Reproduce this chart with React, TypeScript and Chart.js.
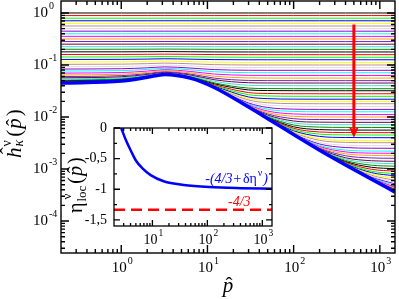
import React, { useEffect, useRef } from "react";
import { Chart, registerables } from "chart.js";

Chart.register(...registerables);

const SERIF = '"Liberation Serif", "Times New Roman", Times, serif';

// ---------- main panel ----------
// momentum grid
const pGrid = [0.2, 1, 2, 3.2, 6.3, 12, 30, 50, 100, 200, 400, 800, 1500];
// limiting curve (thick blue, bottom of the family)
const hLimit = [0.045, 0.049, 0.058, 0.066, 0.056, 0.037, 0.0155, 0.0093, 0.0046, 0.0023, 0.0012, 0.00064, 0.00036];
// plateau level of each thin curve, read at the right edge (top to bottom)
const hPlateaus = [
  1.0, 0.891, 0.794, 0.708, 0.631, 0.562, 0.501, 0.447, 0.398, 0.355, 0.316, 0.282,
  0.251, 0.224, 0.2, 0.178, 0.158, 0.141, 0.126, 0.112, 0.1, 0.089, 0.079, 0.071,
  0.063, 0.056, 0.05, 0.045, 0.04, 0.035, 0.032, 0.028, 0.025, 0.022, 0.02, 0.018,
  0.016, 0.014, 0.0126, 0.0112, 0.01, 0.0089, 0.0079, 0.0071, 0.0063, 0.0056, 0.005,
  0.0045, 0.004, 0.0035, 0.0032, 0.0028, 0.0025, 0.0022, 0.002, 0.0018, 0.0016,
  0.0014, 0.00126, 0.00112, 0.001, 0.00089, 0.00079, 0.00071, 0.00063, 0.00056,
  0.0005, 0.00045, 0.0004, 0.00035, 0.00032, 0.00028, 0.00025,
];
// how sharply a curve leaves the limiting curve for its plateau (read from the bends)
const blendOrder = 3;
const familyColors = [
  "#000000", "#ff0000", "#00ff00", "#0000ff", "#ffff00", "#bc8f8f", "#dcdcdc",
  "#9400d3", "#00ffff", "#ff00ff", "#ffa500", "#7221bc", "#670748", "#40e0d0", "#008b00",
];
const mainXRange = [0.2, 1500];
const mainYRange = [2.43e-5, 1.7];
const mainXDecades = [0, 1, 2, 3];
const mainYDecades = [-4, -3, -2, -1, 0];
const arrowAtP = 500;
const arrowFromH = 0.6;
const arrowToH = 0.004;

// ---------- inset ----------
const etaP = [2.7, 3.3, 4.1, 5, 6.6, 9.3, 16, 37, 110, 400, 1500];
const etaLoc = [0, -0.2, -0.38, -0.53, -0.66, -0.77, -0.87, -0.93, -0.965, -0.982, -0.99];
const etaAsymptote = -4 / 3;
const insetXRange = [2, 1500];
const insetYRange = [-1.6, 0];
const insetXDecades = [1, 2, 3];
const insetYTicks = [0, -0.5, -1, -1.5];
const insetYTickLabels = ["0", "-0,5", "-1", "-1,5"];
const insetYMinor = [-0.25, -0.75, -1.25];

function logMinorValues(min: number, max: number): number[] {
  const out: number[] = [];
  const e0 = Math.floor(Math.log10(min));
  const e1 = Math.ceil(Math.log10(max));
  for (let e = e0; e <= e1; e++) {
    for (let k = 2; k <= 9; k++) {
      const v = k * Math.pow(10, e);
      if (v > min && v < max) out.push(v);
    }
  }
  return out;
}

function drawPower(ctx: CanvasRenderingContext2D, exp: number, x: number, y: number,
  align: string, big: number, small: number) {
  ctx.font = `${big}px ${SERIF}`;
  const wb = ctx.measureText("10").width;
  ctx.font = `${small}px ${SERIF}`;
  const s = String(exp);
  const ws = ctx.measureText(s).width;
  const total = wb + 1 + ws;
  const x0 = align === "left" ? x : align === "center" ? x - total / 2 : x - total;
  ctx.textAlign = "left";
  ctx.textBaseline = "middle";
  ctx.font = `${big}px ${SERIF}`;
  ctx.fillText("10", x0, y);
  ctx.font = `${small}px ${SERIF}`;
  ctx.fillText(s, x0 + wb + 1, y - big * 0.45);
}

function drawFrameAndTicks(ctx: CanvasRenderingContext2D, chart: any,
  xMajor: number[], xMinor: number[], yMajor: number[], yMinor: number[],
  majLen: number, minLen: number, lw: number) {
  const a = chart.chartArea;
  const xs = chart.scales.x;
  const ys = chart.scales.y;
  ctx.save();
  ctx.strokeStyle = "#000";
  ctx.lineWidth = lw;
  ctx.beginPath();
  const tx = (v: number, len: number) => {
    const px = xs.getPixelForValue(v);
    ctx.moveTo(px, a.bottom); ctx.lineTo(px, a.bottom - len);
    ctx.moveTo(px, a.top); ctx.lineTo(px, a.top + len);
  };
  const ty = (v: number, len: number) => {
    const py = ys.getPixelForValue(v);
    ctx.moveTo(a.left, py); ctx.lineTo(a.left + len, py);
    ctx.moveTo(a.right, py); ctx.lineTo(a.right - len, py);
  };
  xMajor.forEach((v) => tx(v, majLen));
  xMinor.forEach((v) => tx(v, minLen));
  yMajor.forEach((v) => ty(v, majLen));
  yMinor.forEach((v) => ty(v, minLen));
  ctx.stroke();
  ctx.strokeRect(a.left, a.top, a.right - a.left, a.bottom - a.top);
  ctx.restore();
}

function drawHat(ctx: CanvasRenderingContext2D, cx: number, baseY: number, size: number) {
  ctx.font = `${size}px ${SERIF}`;
  const w = ctx.measureText("\u02C6").width;
  ctx.fillText("\u02C6", cx - w / 2, baseY);
}

const mainDecor = {
  id: "mainDecor",
  afterDatasetsDraw(chart: any) {
    const ctx: CanvasRenderingContext2D = chart.ctx;
    const xs = chart.scales.x;
    const ys = chart.scales.y;
    const xMajor = mainXDecades.map((e) => Math.pow(10, e));
    const yMajor = mainYDecades.map((e) => Math.pow(10, e));
    drawFrameAndTicks(ctx, chart, xMajor, logMinorValues(mainXRange[0], mainXRange[1]),
      yMajor, logMinorValues(mainYRange[0], mainYRange[1]), 8, 4, 1.4);

    ctx.save();
    ctx.fillStyle = "#000";
    mainYDecades.forEach((e) => drawPower(ctx, e, 33, ys.getPixelForValue(Math.pow(10, e)), "left", 15, 10));
    mainXDecades.forEach((e) => drawPower(ctx, e, xs.getPixelForValue(Math.pow(10, e)) + 1, 268, "center", 15, 10));

    // x title: p-hat
    ctx.textBaseline = "alphabetic";
    ctx.textAlign = "left";
    ctx.font = `italic 21px ${SERIF}`;
    const wp = ctx.measureText("p").width;
    ctx.fillText("p", 228 - wp / 2, 292);
    drawHat(ctx, 229, 292, 21);

    // y title: h-hat ^nu _kappa ( p-hat )
    ctx.save();
    ctx.translate(21, 158);
    ctx.rotate(-Math.PI / 2);
    const F = 21;
    let x = 0;
    ctx.font = `italic ${F}px ${SERIF}`;
    ctx.fillText("h", x, 0);
    const wh = ctx.measureText("h").width;
    drawHat(ctx, x + wh / 2 + 2, -6, F);
    x += wh + 1;
    ctx.font = `${14}px ${SERIF}`;
    ctx.fillText("\u03BD", x, -10);
    const wn = ctx.measureText("\u03BD").width;
    ctx.font = `italic ${14}px ${SERIF}`;
    ctx.fillText("\u03BA", x, 2);
    const wk = ctx.measureText("\u03BA").width;
    x += Math.max(wn, wk) + 3;
    ctx.font = `${F}px ${SERIF}`;
    ctx.fillText("(", x, 0);
    x += ctx.measureText("(").width + 1;
    ctx.font = `italic ${F}px ${SERIF}`;
    ctx.fillText("p", x, 0);
    const wp2 = ctx.measureText("p").width;
    drawHat(ctx, x + wp2 / 2 + 1, 0, F);
    x += wp2 + 2;
    ctx.font = `${F}px ${SERIF}`;
    ctx.fillText(")", x, 0);
    ctx.restore();

    // red arrow
    const ax = xs.getPixelForValue(arrowAtP);
    const ay0 = ys.getPixelForValue(arrowFromH);
    const ay1 = ys.getPixelForValue(arrowToH);
    ctx.strokeStyle = "#ff0000";
    ctx.fillStyle = "#ff0000";
    ctx.lineWidth = 3;
    ctx.beginPath();
    ctx.moveTo(ax, ay0);
    ctx.lineTo(ax, ay1 - 8);
    ctx.stroke();
    ctx.beginPath();
    ctx.moveTo(ax, ay1);
    ctx.lineTo(ax - 5, ay1 - 11);
    ctx.lineTo(ax, ay1 - 8);
    ctx.lineTo(ax + 5, ay1 - 11);
    ctx.closePath();
    ctx.fill();
    ctx.restore();
  },
};

const insetDecor = {
  id: "insetDecor",
  beforeDraw(chart: any) {
    const a = chart.chartArea;
    const ctx: CanvasRenderingContext2D = chart.ctx;
    ctx.save();
    ctx.fillStyle = "#fff";
    ctx.fillRect(a.left, a.top, a.right - a.left, a.bottom - a.top);
    ctx.restore();
  },
  afterDatasetsDraw(chart: any) {
    const ctx: CanvasRenderingContext2D = chart.ctx;
    const xs = chart.scales.x;
    const ys = chart.scales.y;
    const a = chart.chartArea;
    drawFrameAndTicks(ctx, chart, insetXDecades.map((e) => Math.pow(10, e)),
      logMinorValues(insetXRange[0], insetXRange[1]), insetYTicks, insetYMinor, 6, 3, 1.3);
    ctx.save();
    ctx.fillStyle = "#000";
    ctx.textBaseline = "middle";
    ctx.textAlign = "right";
    ctx.font = `14px ${SERIF}`;
    insetYTicks.forEach((v, i) => ctx.fillText(insetYTickLabels[i], a.left - 7, ys.getPixelForValue(v)));
    insetXDecades.forEach((e) => drawPower(ctx, e, xs.getPixelForValue(Math.pow(10, e)) + 1, 240, "center", 14, 9.5));

    // inset y title: eta ^nu _loc ( p-hat )
    ctx.textAlign = "left";
    ctx.textBaseline = "alphabetic";
    ctx.save();
    ctx.translate(82, 213);
    ctx.rotate(-Math.PI / 2);
    const F = 20;
    let x = 0;
    ctx.font = `${F}px ${SERIF}`;
    ctx.fillText("\u03B7", x, 0);
    x += ctx.measureText("\u03B7").width + 1;
    ctx.font = `13px ${SERIF}`;
    ctx.fillText("\u03BD", x + 2, -11);
    const wn = ctx.measureText("\u03BD").width;
    ctx.fillText("loc", x, 4);
    const wl = ctx.measureText("loc").width;
    x += Math.max(wn, wl) + 2;
    ctx.font = `${F}px ${SERIF}`;
    ctx.fillText("(", x, 0);
    x += ctx.measureText("(").width + 1;
    ctx.font = `italic ${F}px ${SERIF}`;
    ctx.fillText("p", x, 0);
    const wp = ctx.measureText("p").width;
    drawHat(ctx, x + wp / 2 + 1, 0, F);
    x += wp + 2;
    ctx.font = `${F}px ${SERIF}`;
    ctx.fillText(")", x, 0);
    ctx.restore();

    // annotations
    const yBlue = ys.getPixelForValue(etaLoc[etaLoc.length - 1]) - 6;
    ctx.fillStyle = "#0000ff";
    const parts: [string, string, number][] = [
      ["-(4/3+", `italic 14px ${SERIF}`, 0],
      ["\u03B4\u03B7", `14px ${SERIF}`, 0],
      ["\u03BD", `10px ${SERIF}`, -7],
      [")", `italic 14px ${SERIF}`, 0],
    ];
    let total = 0;
    parts.forEach(([t, f]) => { ctx.font = f; total += ctx.measureText(t).width + 1; });
    let px = a.right - 3 - total;
    parts.forEach(([t, f, dy]) => {
      ctx.font = f;
      ctx.fillText(t, px, yBlue + dy);
      px += ctx.measureText(t).width + 1;
    });
    ctx.fillStyle = "#ff0000";
    ctx.font = `italic 14px ${SERIF}`;
    ctx.fillText("-4/3", 228, ys.getPixelForValue(etaAsymptote) - 4);
    ctx.restore();
  },
};

export default function App() {
  const mainRef = useRef<HTMLCanvasElement>(null);
  const insetRef = useRef<HTMLCanvasElement>(null);

  useEffect(() => {
    document.body.style.margin = "0";
    const common = { pointRadius: 0, fill: false, cubicInterpolationMode: "monotone" };
    const datasets: any[] = [
      {
        ...common,
        data: pGrid.map((p, i) => ({ x: p, y: hLimit[i] })),
        borderColor: "#0000ff",
        borderWidth: 3.5,
        order: 0,
      },
      ...hPlateaus.map((c, k) => ({
        ...common,
        data: pGrid.map((p, i) => ({
          x: p,
          y: Math.pow(Math.pow(hLimit[i], blendOrder) + Math.pow(c, blendOrder), 1 / blendOrder),
        })),
        borderColor: familyColors[k % familyColors.length],
        borderWidth: 1,
        order: 1,
      })),
    ];
    const main = new Chart(mainRef.current as HTMLCanvasElement, {
      type: "line",
      data: { datasets },
      options: {
        animation: false,
        responsive: false,
        events: [],
        layout: { padding: { left: 61, top: 1, right: 4, bottom: 46 } },
        scales: {
          x: { type: "logarithmic", min: mainXRange[0], max: mainXRange[1], display: false },
          y: { type: "logarithmic", min: mainYRange[0], max: mainYRange[1], display: false },
        },
        plugins: { legend: { display: false }, tooltip: { enabled: false } },
      },
      plugins: [mainDecor],
    } as any);

    const inset = new Chart(insetRef.current as HTMLCanvasElement, {
      type: "line",
      data: {
        datasets: [
          {
            ...common,
            data: etaP.map((p, i) => ({ x: p, y: etaLoc[i] })),
            borderColor: "#0000ff",
            borderWidth: 2.5,
            order: 0,
          },
          {
            pointRadius: 0,
            fill: false,
            data: [{ x: insetXRange[0], y: etaAsymptote }, { x: insetXRange[1], y: etaAsymptote }],
            borderColor: "#ff0000",
            borderWidth: 2.5,
            borderDash: [11, 6],
            order: 1,
          },
        ],
      },
      options: {
        animation: false,
        responsive: false,
        events: [],
        layout: { padding: { left: 114, top: 128, right: 127, bottom: 73 } },
        scales: {
          x: { type: "logarithmic", min: insetXRange[0], max: insetXRange[1], display: false },
          y: { type: "linear", min: insetYRange[0], max: insetYRange[1], display: false },
        },
        plugins: { legend: { display: false }, tooltip: { enabled: false } },
      },
      plugins: [insetDecor],
    } as any);

    return () => {
      main.destroy();
      inset.destroy();
    };
  }, []);

  return (
    <div style={{ position: "relative", width: 399, height: 299, background: "#fff" }}>
      <canvas ref={mainRef} width={399} height={299} style={{ position: "absolute", left: 0, top: 0 }} />
      <canvas ref={insetRef} width={399} height={299} style={{ position: "absolute", left: 0, top: 0 }} />
    </div>
  );
}
